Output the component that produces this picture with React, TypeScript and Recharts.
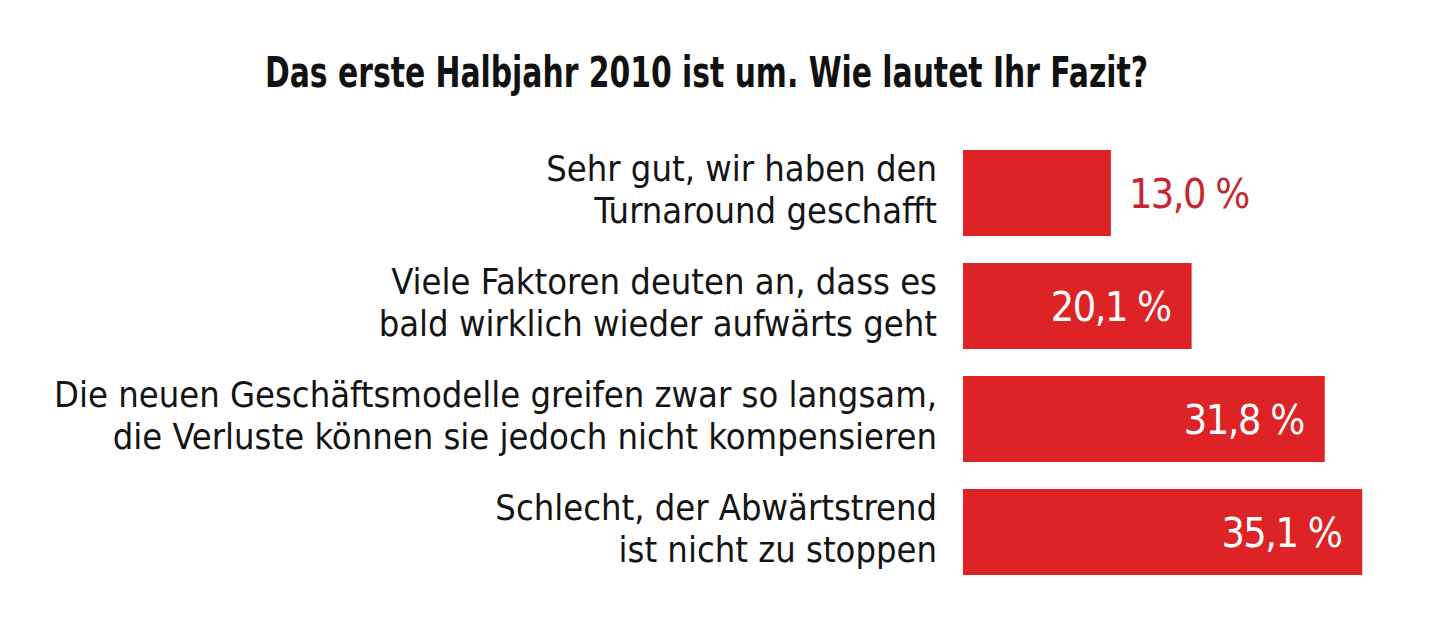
import React from 'react';
import { BarChart, Bar, XAxis, YAxis, LabelList } from 'recharts';

const title = 'Das erste Halbjahr 2010 ist um. Wie lautet Ihr Fazit?';
const categories = [
  'Sehr gut, wir haben den\nTurnaround geschafft',
  'Viele Faktoren deuten an, dass es\nbald wirklich wieder aufwärts geht',
  'Die neuen Geschäftsmodelle greifen zwar so langsam,\ndie Verluste können sie jedoch nicht kompensieren',
  'Schlecht, der Abwärtstrend\nist nicht zu stoppen',
];
const values = [13.0, 20.1, 31.8, 35.1];

const data = categories.map((name, i) => ({ name, value: values[i] }));

const FONT = "'Liberation Sans Narrow', 'DejaVu Sans Condensed', 'Roboto Condensed', 'Open Sans', sans-serif";
const RED = '#DE2327';
const W = 1432;
const H = 630;

const fmt = (v: number) => v.toFixed(1).replace('.', ',') + ' %';

const CatTick = (props: any) => {
  const { x, y, payload } = props;
  const lines = String(payload.value).split('\n');
  return (
    <g>
      <text x={x} y={y - 12} textAnchor="end" fontFamily={FONT} fontSize={36} fill="#141414">{lines[0]}</text>
      <text x={x} y={y + 30} textAnchor="end" fontFamily={FONT} fontSize={36} fill="#141414">{lines[1]}</text>
    </g>
  );
};

const ValueLabel = (props: any) => {
  const { x, y, width, height, value } = props;
  const cy = Number(y) + Number(height) / 2 + 15;
  const inside = Number(value) > 15;
  const common = { fontFamily: FONT, fontSize: 41, letterSpacing: -1.5 };
  return inside ? (
    <text x={Number(x) + Number(width) - 21} y={cy} textAnchor="end" {...common} fill="#ffffff">{fmt(Number(value))}</text>
  ) : (
    <text x={Number(x) + Number(width) + 18} y={cy} textAnchor="start" {...common} fill="#C6262D">{fmt(Number(value))}</text>
  );
};

export default function App() {
  return (
    <div style={{ position: 'relative', width: W, height: H, background: '#fff' }}>
      <svg width={W} height={100} style={{ position: 'absolute', left: 0, top: 0 }}>
        <text x={698.5} y={79} textAnchor="middle" fontFamily={FONT} fontWeight="bold" fontSize={42} fill="#111" textLength={883} lengthAdjust="spacingAndGlyphs">{title}</text>
      </svg>
      <BarChart width={W} height={H} data={data} layout="vertical" margin={{ top: 128, right: 22, bottom: 50, left: 0 }}>
        <XAxis type="number" domain={[0, 40]} hide />
        <YAxis type="category" dataKey="name" width={955} tickLine={false} axisLine={false} tickSize={0} tickMargin={26} tick={<CatTick />} interval={0} />
        <Bar dataKey="value" fill={RED} barSize={86} isAnimationActive={false}>
          <LabelList dataKey="value" content={<ValueLabel />} />
        </Bar>
      </BarChart>
    </div>
  );
}
